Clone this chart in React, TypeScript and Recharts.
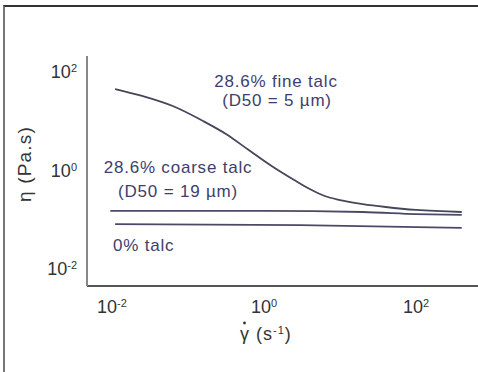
import React from "react";
import { Line, LineChart, XAxis, YAxis } from "recharts";

// shear rate (1/s) and viscosity (Pa.s)
const fineRate = [
  0.011, 0.025, 0.063, 0.158, 0.316, 0.63, 1.26, 2.5, 4.0, 6.3, 10, 20, 40, 100, 400,
];
const fineEta = [
  45, 32.4, 20.2, 10, 5.43, 2.56, 1.21, 0.625, 0.409, 0.295, 0.244, 0.202, 0.176, 0.153,
  0.139,
];

const coarseRate = [0.0095, 1, 20, 100, 400];
const coarseEta = [0.146, 0.146, 0.139, 0.126, 0.121];

const noTalcRate = [0.011, 3, 400];
const noTalcEta = [0.079, 0.075, 0.066];

const xTicks = [0.01, 1, 100];
const yTicks = [0.01, 1, 100];
const tickExponents: Record<string, string> = {
  "0.01": "-2",
  "1": "0",
  "100": "2",
};

const toPoints = (xs: number[], ys: number[]) =>
  xs.map((x, i) => ({ x, y: ys[i] }));

const fineData = toPoints(fineRate, fineEta);
const coarseData = toPoints(coarseRate, coarseEta);
const noTalcData = toPoints(noTalcRate, noTalcEta);

const FONT = "'Liberation Sans', Arial, sans-serif";
const LINE = "#4a4a68";
const NOTE = "#3e3e6c";

function PowerTick({
  x,
  y,
  payload,
  axis,
}: {
  x: number;
  y: number;
  payload: { value: number };
  axis: "x" | "y";
}) {
  const exp = tickExponents[String(payload.value)];
  const isX = axis === "x";
  return (
    <text
      x={isX ? x : x - 2}
      y={isX ? y + 19 : y + 6.5}
      textAnchor={isX ? "middle" : "end"}
      fill="#333"
      fontSize={18}
      fontFamily={FONT}
    >
      <tspan>10</tspan>
      <tspan dy={-6} fontSize={11}>
        {exp}
      </tspan>
    </text>
  );
}

export default function App() {
  return (
    <div
      style={{
        position: "absolute",
        left: 0,
        top: 0,
        width: 478,
        height: 372,
        background: "#fff",
        overflow: "hidden",
      }}
    >
      <div
        style={{
          position: "absolute",
          left: 3,
          top: 5,
          width: 490,
          height: 380,
          borderTop: "2px solid #333",
          borderLeft: "2px solid #777",
        }}
      />
      <LineChart
        width={478}
        height={372}
        margin={{ top: 56, right: 0, bottom: 0, left: 0 }}
        style={{ position: "absolute", left: 0, top: 0 }}
      >
        <XAxis
          type="number"
          dataKey="x"
          scale="log"
          domain={[0.00469, 655]}
          allowDataOverflow
          ticks={xTicks}
          height={86}
          axisLine={{ stroke: "#555", strokeWidth: 2 }}
          tickLine={false}
          tick={(p: any) => <PowerTick {...p} axis="x" />}
        />
        <YAxis
          type="number"
          dataKey="y"
          scale="log"
          domain={[0.0043, 212]}
          allowDataOverflow
          ticks={yTicks}
          width={87}
          axisLine={{ stroke: "#888", strokeWidth: 2 }}
          tickLine={false}
          tick={(p: any) => <PowerTick {...p} axis="y" />}
        />
        <Line
          data={fineData}
          dataKey="y"
          type="monotone"
          stroke="#46465a"
          strokeWidth={1.8}
          dot={false}
          isAnimationActive={false}
        />
        <Line
          data={coarseData}
          dataKey="y"
          type="monotone"
          stroke={LINE}
          strokeWidth={1.8}
          dot={false}
          isAnimationActive={false}
        />
        <Line
          data={noTalcData}
          dataKey="y"
          type="monotone"
          stroke={LINE}
          strokeWidth={1.8}
          dot={false}
          isAnimationActive={false}
        />
      </LineChart>
      <svg
        width={478}
        height={372}
        style={{ position: "absolute", left: 0, top: 0, pointerEvents: "none" }}
        fontFamily={FONT}
      >
        <g fill={NOTE} fontSize={17} letterSpacing={0.8} textAnchor="middle">
          <text x={276} y={87}>28.6% fine talc</text>
          <text x={277} y={106}>(D50 = 5 µm)</text>
          <text x={178} y={173}>28.6% coarse talc</text>
          <text x={178} y={197}>(D50 = 19 µm)</text>
          <text x={113} y={251} textAnchor="start">0% talc</text>
        </g>
        <text
          x={31}
          y={164}
          fill="#333"
          fontSize={19}
          letterSpacing={1.2}
          textAnchor="middle"
          transform="rotate(-90, 31, 164)"
        >
          η (Pa.s)
        </text>
        <text x={240} y={340} fill="#333" fontSize={18} letterSpacing={1}>
          γ (s
          <tspan dy={-6} fontSize={11}>
            -1
          </tspan>
          <tspan dy={6}>)</tspan>
        </text>
        {/* dot over gamma (shear-rate symbol) */}
        <circle cx={244.5} cy={323} r={1.4} fill="#333" />
      </svg>
    </div>
  );
}
